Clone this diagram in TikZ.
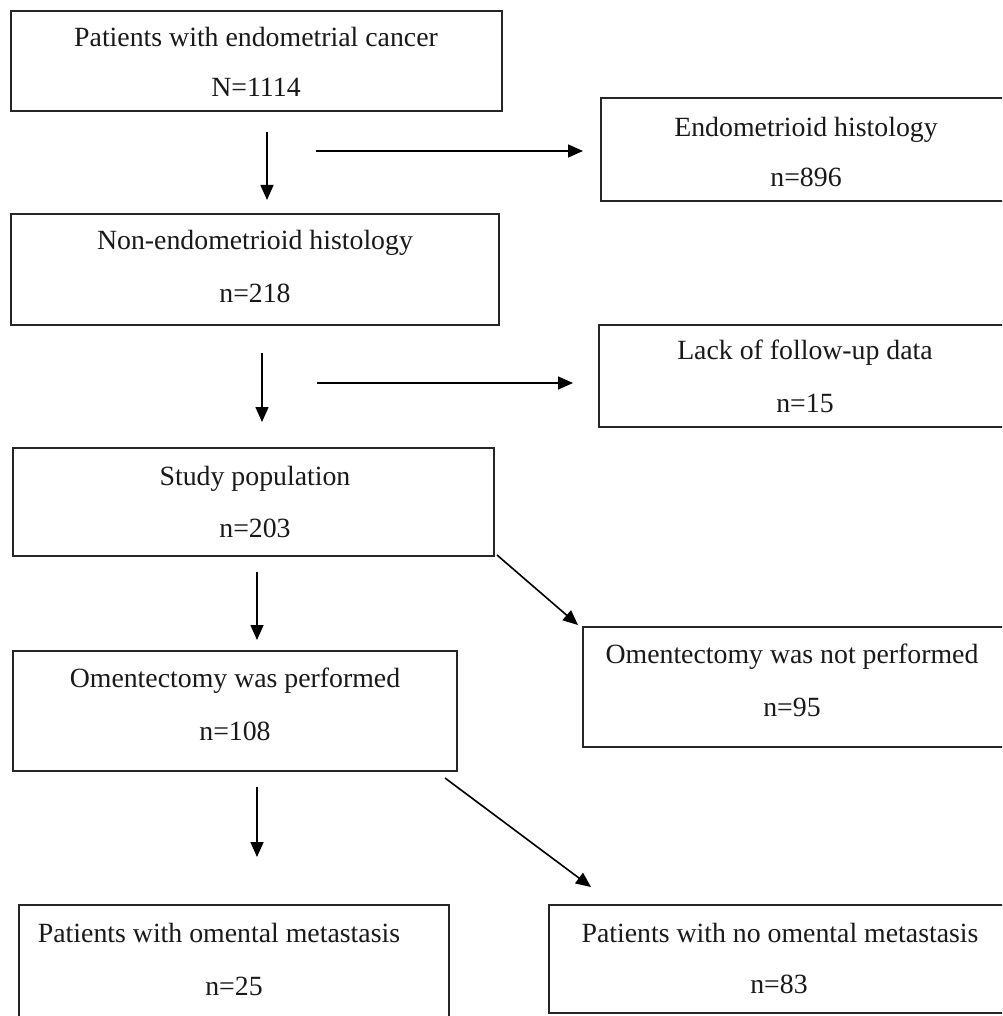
\documentclass[tikz,border=0pt]{standalone}
\usepackage{fontspec}
\setmainfont{Liberation Serif}
\usetikzlibrary{arrows.meta}
\begin{document}
\begin{tikzpicture}[x=1pt,y=-1pt,
  box/.style={draw=black!85, line width=2pt, fill=none, inner sep=0pt, outer sep=0pt, anchor=north west},
  txt/.style={anchor=base, inner sep=0pt, font=\fontsize{27.8}{33}\selectfont, text=black!90},
  arr/.style={line width=1.6pt, draw=black, -{Triangle[length=15pt,width=13pt]}}]
\useasboundingbox (0,0) rectangle (1002,1016);
\clip (0,0) rectangle (1002,1016);
\fill[white] (0,0) rectangle (1002,1016);
% boxes
\node[box, minimum width=491pt, minimum height=100pt] (b1) at (11,11) {};
\node[box, minimum width=410pt, minimum height=103pt] (endo) at (601,98) {};
\node[box, minimum width=488pt, minimum height=111pt] (b2) at (11,214) {};
\node[box, minimum width=412pt, minimum height=102pt] (lack) at (599,325) {};
\node[box, minimum width=481pt, minimum height=108pt] (study) at (13,448) {};
\node[box, minimum width=427pt, minimum height=120pt] (notp) at (583,627) {};
\node[box, minimum width=444pt, minimum height=120pt] (perf) at (13,651) {};
\node[box, minimum width=430pt, minimum height=125pt] (bl) at (19,905) {};
\node[box, minimum width=462pt, minimum height=108pt] (br) at (549,905) {};
% texts
\node[txt] (b1a) at (256,47) {Patients with endometrial cancer};
\node[txt] (b1b) at (256,97) {N=1114};
\node[txt] (endoa) at (806,137) {Endometrioid histology};
\node[txt] (endob) at (806,187) {n=896};
\node[txt] (b2a) at (255,249) {Non-endometrioid histology};
\node[txt] (b2b) at (255,302) {n=218};
\node[txt] (lacka) at (805,359) {Lack of follow-up data};
\node[txt] (lackb) at (805,412) {n=15};
\node[txt] (studya) at (255,485) {Study population};
\node[txt] (studyb) at (255,537) {n=203};
\node[txt] (notpa) at (792,663) {Omentectomy was not performed};
\node[txt] (notpb) at (792,716) {n=95};
\node[txt] (perfa) at (235,687) {Omentectomy was performed};
\node[txt] (perfb) at (235,740) {n=108};
\node[txt] (bla) at (219,942) {Patients with omental metastasis};
\node[txt] (blb) at (234,995) {n=25};
\node[txt] (bra) at (780,942) {Patients with no omental metastasis};
\node[txt] (brb) at (779,993) {n=83};
% connector end points
\coordinate (a1s) at (267,132); \coordinate (a1e) at (267,200);
\coordinate (h1s) at (316,151); \coordinate (h1e) at (583,151);
\coordinate (a2s) at (262,353); \coordinate (a2e) at (262,422);
\coordinate (h2s) at (317,383); \coordinate (h2e) at (573,383);
\coordinate (d1s) at (497,555); \coordinate (d1e) at (578,625);
\coordinate (a3s) at (257,572); \coordinate (a3e) at (257,640);
\coordinate (d2s) at (445,778); \coordinate (d2e) at (591,887);
\coordinate (a4s) at (257,787); \coordinate (a4e) at (257,857);
\draw[arr] (a1s) -- (a1e);
\draw[arr] (h1s) -- (h1e);
\draw[arr] (a2s) -- (a2e);
\draw[arr] (h2s) -- (h2e);
\draw[arr] (d1s) -- (d1e);
\draw[arr] (a3s) -- (a3e);
\draw[arr] (d2s) -- (d2e);
\draw[arr] (a4s) -- (a4e);
\end{tikzpicture}
\end{document}
